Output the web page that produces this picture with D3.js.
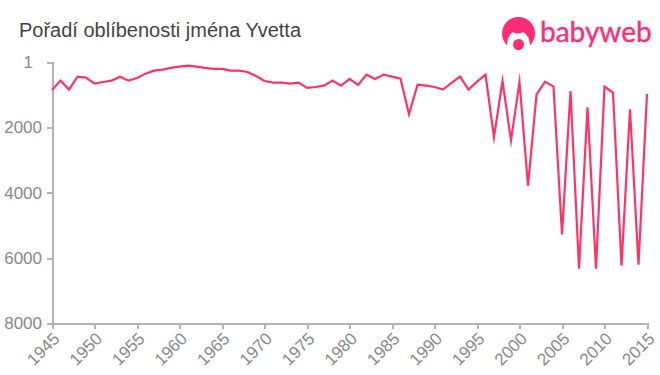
<!DOCTYPE html>
<html>
<head>
<meta charset="utf-8">
<script src="https://cdn.jsdelivr.net/npm/d3@7"></script>
<style>
    html, body { margin: 0; padding: 0; background: #fff; }
    text { font-family: "Liberation Sans", Arial, sans-serif; }
    .axis path, .axis line { stroke: #b3b3b3; stroke-width: 2; fill: none; shape-rendering: crispEdges; }
    .axis text { fill: #888; font-size: 17px; }
</style>
</head>
<body>
<svg id="chart" width="660" height="375"></svg>
<script>
"use strict";

const chartTitle = "Pořadí oblíbenosti jména Yvetta";
const years = d3.range(1945, 2016);
const ranks = [
    857, 571, 846, 449, 479, 663, 612, 571, 449, 571,
    490, 357, 265, 235, 183, 142, 112, 142, 183, 214,
    214, 265, 265, 306, 428, 581, 632, 632, 663, 632,
    795, 765, 724, 571, 724, 520, 704, 388, 520, 388,
    449, 510, 1600, 693, 724, 765, 846, 640, 449, 846,
    602, 388, 2300, 580, 2400, 610, 3793, 999, 602, 755,
    5272, 887, 6322, 1387, 6322, 755, 938, 6230, 1448, 6200,
    979
];
const xTicks = d3.range(1945, 2016, 5);
const yTicks = [1, 2000, 4000, 6000, 8000];

const svg = d3.select("#chart");

// scales
const x = d3.scaleLinear().domain([1945, 2015]).range([52, 647]);
const y = d3.scaleLinear().domain([1, 8000]).range([62, 323.5]);

// title
svg.append("text")
    .attr("x", 19)
    .attr("y", 37)
    .attr("fill", "#444")
    .style("font-size", "20px")
    .text(chartTitle);

// axes
const xAxis = svg.append("g")
    .attr("class", "axis")
    .attr("transform", "translate(0,323.5)")
    .call(d3.axisBottom(x).tickValues(xTicks).tickFormat(d3.format("d")).tickSize(5).tickSizeOuter(5));

xAxis.selectAll("text")
    .attr("x", 0)
    .attr("y", 0)
    .attr("dy", "0.35em")
    .attr("text-anchor", "end")
    .attr("transform", "translate(4,12) rotate(-45)");

const yAxis = svg.append("g")
    .attr("class", "axis")
    .attr("transform", "translate(52,0)")
    .call(d3.axisLeft(y).tickValues(yTicks).tickFormat(d3.format("d")).tickSize(5).tickSizeOuter(5).tickPadding(5));

// the "1" label sits further left than the others
yAxis.selectAll("text")
    .filter(d => d === 1)
    .attr("dx", -9);

// rank line
const line = d3.line()
    .x((d, i) => x(years[i]))
    .y(d => y(d));

svg.append("path")
    .datum(ranks)
    .attr("d", line)
    .attr("fill", "none")
    .attr("stroke", "#ff3366")
    .attr("stroke-width", 2.2)
    .attr("stroke-miterlimit", 10);

// logo
const logo = svg.append("g").attr("fill", "#ff2e74");
logo.append("circle").attr("cx", 518.5).attr("cy", 33.5).attr("r", 16.5);
logo.append("path")
    .attr("fill", "#fff")
    .attr("d", "M507 51 Q506 36 513 32 Q518 35 523 32 Q531 36 530 51 Z");
logo.append("circle").attr("cx", 518.5).attr("cy", 44.5).attr("r", 5.5);
logo.append("text")
    .attr("x", 540)
    .attr("y", 42)
    .attr("fill", "#ff2e74")
    .attr("stroke", "#ff2e74")
    .attr("stroke-width", 0.4)
    .style("font-family", "Lato")
    .style("font-size", "28px")
    .text("babyweb");
</script>
</body>
</html>
